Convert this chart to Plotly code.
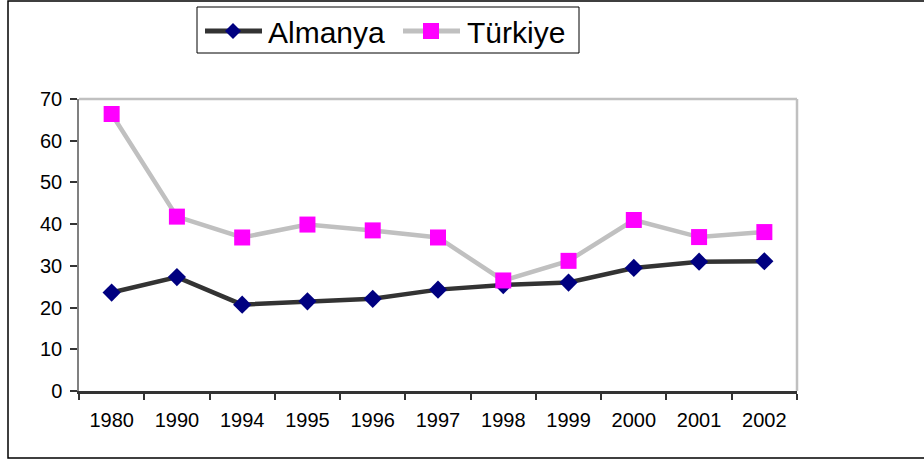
import plotly.graph_objects as go

years = ["1980", "1990", "1994", "1995", "1996", "1997", "1998", "1999", "2000", "2001", "2002"]
almanya = [23.6, 27.3, 20.7, 21.5, 22.1, 24.3, 25.4, 26.0, 29.5, 31.0, 31.1]
turkiye = [66.4, 41.8, 36.8, 39.9, 38.5, 36.8, 26.5, 31.2, 41.0, 36.9, 38.1]
y_ticks = [0, 10, 20, 30, 40, 50, 60, 70]
series_names = ["Almanya", "Türkiye"]

FONT = "Arial, 'Liberation Sans', sans-serif"
C_ALM_LINE, C_ALM_MK = "#333333", "#000080"
C_TUR_LINE, C_TUR_MK = "#C0C0C0", "#FF00FF"

fig = go.Figure()
fig.add_trace(go.Scatter(
    x=years, y=almanya, name=series_names[0], mode="lines+markers",
    line=dict(color=C_ALM_LINE, width=4.5),
    marker=dict(symbol="diamond", size=14, color=C_ALM_MK),
    showlegend=False,
))
fig.add_trace(go.Scatter(
    x=years, y=turkiye, name=series_names[1], mode="lines+markers",
    line=dict(color=C_TUR_LINE, width=4.5),
    marker=dict(symbol="square", size=16, color=C_TUR_MK),
    showlegend=False,
))

W, H = 924, 460
L, R, T, B = 79, 127, 99, 69
pw, ph = W - L - R, H - T - B

def px(x):
    return (x - L) / pw

def py(y):
    return (H - B - y) / ph

# manual legend (box, symbols, labels) in paper coordinates
leg_y = 31
shapes = [
    dict(type="line", xref="paper", yref="paper", x0=0, x1=1, y0=1, y1=1,
         line=dict(color="#C0C0C0", width=2.5)),
    dict(type="line", xref="paper", yref="paper", x0=1, x1=1, y0=0, y1=1,
         line=dict(color="#C0C0C0", width=2.5)),
    dict(type="rect", xref="paper", yref="paper",
         x0=px(8), x1=px(935), y0=py(458), y1=py(1),
         line=dict(color="black", width=1.5), fillcolor="rgba(0,0,0,0)"),
    dict(type="rect", xref="paper", yref="paper",
         x0=px(197), x1=px(579), y0=py(53), y1=py(7),
         line=dict(color="black", width=1), fillcolor="white"),
    dict(type="line", xref="paper", yref="paper",
         x0=px(205), x1=px(262), y0=py(leg_y), y1=py(leg_y),
         line=dict(color=C_ALM_LINE, width=5)),
    dict(type="path", xref="paper", yref="paper",
         path=f"M {px(233)} {py(leg_y-8)} L {px(241)} {py(leg_y)} L {px(233)} {py(leg_y+8)} L {px(225)} {py(leg_y)} Z",
         line=dict(width=0), fillcolor=C_ALM_MK),
    dict(type="line", xref="paper", yref="paper",
         x0=px(403), x1=px(460), y0=py(leg_y), y1=py(leg_y),
         line=dict(color=C_TUR_LINE, width=5)),
    dict(type="rect", xref="paper", yref="paper",
         x0=px(423), x1=px(439), y0=py(leg_y+8), y1=py(leg_y-8),
         line=dict(width=0), fillcolor=C_TUR_MK),
]

annotations = [
    dict(text=series_names[0], xref="paper", yref="paper", x=px(266), y=py(leg_y + 1),
         xanchor="left", yanchor="middle", showarrow=False,
         font=dict(size=30, family=FONT, color="black")),
    dict(text=series_names[1], xref="paper", yref="paper", x=px(465), y=py(leg_y + 1),
         xanchor="left", yanchor="middle", showarrow=False,
         font=dict(size=30, family=FONT, color="black")),
]

fig.update_layout(
    width=W, height=H,
    margin=dict(l=L, r=R, t=T, b=B),
    paper_bgcolor="white", plot_bgcolor="white",
    font=dict(family=FONT, color="black", size=20),
    showlegend=False,
    xaxis=dict(
        type="category", range=[-0.5, 10.5], showgrid=False,
        showline=True, linecolor="#333333", linewidth=2.5,
        ticks="outside", ticklen=6, tickcolor="#333333", tickwidth=1.5,
        tickson="boundaries", tickfont=dict(size=20, family=FONT, color="black"),
        ticklabelstandoff=9,
        zeroline=False,
    ),
    yaxis=dict(
        range=[0, 70], tickvals=y_ticks, showgrid=False,
        showline=True, linecolor="#808080", linewidth=1.5,
        ticks="outside", ticklen=7, tickcolor="#333333", tickwidth=1.5,
        tickfont=dict(size=20, family=FONT, color="black"),
        ticklabelstandoff=4,
        zeroline=False,
    ),
    shapes=shapes,
    annotations=annotations,
)

fig.write_html("out.html", config={"displayModeBar": False},
               post_script="document.body.style.margin='0';document.body.style.padding='0';")
